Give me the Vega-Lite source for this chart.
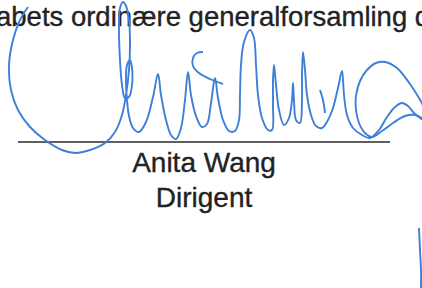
{
  "$schema": "https://vega.github.io/schema/vega-lite/v6.json",
  "width": 422,
  "height": 288,
  "autosize": {"type": "fit", "contains": "padding"},
  "padding": 0,
  "background": "white",
  "config": {"view": {"stroke": null}},
  "datasets": {
    "sig": [
      {"s":"a","i":1,"x":28,"y":7},{"s":"a","i":2,"x":20,"y":20},{"s":"a","i":3,"x":13,"y":40},{"s":"a","i":4,"x":9,"y":65},{"s":"a","i":5,"x":11,"y":90},{"s":"a","i":6,"x":18,"y":110},{"s":"a","i":7,"x":30,"y":127},{"s":"a","i":8,"x":45,"y":140},{"s":"a","i":9,"x":62,"y":150},{"s":"a","i":10,"x":75,"y":153},{"s":"a","i":11,"x":90,"y":150},{"s":"a","i":12,"x":105,"y":143},{"s":"a","i":13,"x":115,"y":132},{"s":"a","i":14,"x":122,"y":115},{"s":"a","i":15,"x":126,"y":95},{"s":"a","i":16,"x":129,"y":70},{"s":"a","i":17,"x":130,"y":45},{"s":"a","i":18,"x":129,"y":20},{"s":"a","i":19,"x":126,"y":6},{"s":"a","i":20,"x":123,"y":2},{"s":"a","i":21,"x":120,"y":8},{"s":"a","i":22,"x":119,"y":30},{"s":"a","i":23,"x":120,"y":60},{"s":"a","i":24,"x":122,"y":85},{"s":"a","i":25,"x":125,"y":98},{"s":"a","i":26,"x":129,"y":97},{"s":"a","i":27,"x":132,"y":85},{"s":"a","i":28,"x":132,"y":68},{"s":"a","i":29,"x":130,"y":60},{"s":"a","i":30,"x":127,"y":65},{"s":"a","i":31,"x":126,"y":80},{"s":"a","i":32,"x":127,"y":100},{"s":"a","i":33,"x":129,"y":116},{"s":"a","i":34,"x":133,"y":128},{"s":"a","i":35,"x":139,"y":132},{"s":"a","i":36,"x":146,"y":122},{"s":"a","i":37,"x":153,"y":97},{"s":"a","i":38,"x":158,"y":74},{"s":"a","i":39,"x":161,"y":95},{"s":"a","i":40,"x":166,"y":120},{"s":"a","i":41,"x":171,"y":135},{"s":"a","i":42,"x":176,"y":139},{"s":"a","i":43,"x":181,"y":128},{"s":"a","i":44,"x":185,"y":100},{"s":"a","i":45,"x":188,"y":72},{"s":"a","i":46,"x":191,"y":95},{"s":"a","i":47,"x":196,"y":116},{"s":"a","i":48,"x":202,"y":127},{"s":"a","i":49,"x":207,"y":124},{"s":"a","i":50,"x":211,"y":103},{"s":"a","i":51,"x":215,"y":78},{"s":"a","i":52,"x":218,"y":98},{"s":"a","i":53,"x":223,"y":120},{"s":"a","i":54,"x":229,"y":131},{"s":"a","i":55,"x":235,"y":131},{"s":"a","i":56,"x":239,"y":120},{"s":"a","i":57,"x":240,"y":95},{"s":"a","i":58,"x":241,"y":65},{"s":"a","i":59,"x":244,"y":42},{"s":"a","i":60,"x":250,"y":30},{"s":"a","i":61,"x":254,"y":38},{"s":"a","i":62,"x":256,"y":65},{"s":"a","i":63,"x":258,"y":95},{"s":"a","i":64,"x":262,"y":118},{"s":"a","i":65,"x":268,"y":130},{"s":"a","i":66,"x":272,"y":130},{"s":"a","i":67,"x":273,"y":105},{"s":"a","i":68,"x":273,"y":80},{"s":"a","i":69,"x":274,"y":65},{"s":"a","i":70,"x":276,"y":85},{"s":"a","i":71,"x":279,"y":110},{"s":"a","i":72,"x":284,"y":125},{"s":"a","i":73,"x":289,"y":118},{"s":"a","i":74,"x":292,"y":100},{"s":"a","i":75,"x":293,"y":83},{"s":"a","i":76,"x":294,"y":100},{"s":"a","i":77,"x":296,"y":120},{"s":"a","i":78,"x":300,"y":123},{"s":"a","i":79,"x":302,"y":100},{"s":"a","i":80,"x":302,"y":75},{"s":"a","i":81,"x":303,"y":52},{"s":"a","i":82,"x":305,"y":70},{"s":"a","i":83,"x":307,"y":95},{"s":"a","i":84,"x":311,"y":115},{"s":"a","i":85,"x":316,"y":126},{"s":"a","i":86,"x":322,"y":128},{"s":"a","i":87,"x":328,"y":120},{"s":"a","i":88,"x":333,"y":108},{"s":"a","i":89,"x":338,"y":88},{"s":"a","i":90,"x":342,"y":71},{"s":"a","i":91,"x":344,"y":95},{"s":"a","i":92,"x":347,"y":115},{"s":"a","i":93,"x":353,"y":128},{"s":"a","i":94,"x":362,"y":135},{"s":"a","i":95,"x":370,"y":138},{"s":"a","i":96,"x":379,"y":130},{"s":"a","i":97,"x":387,"y":117},{"s":"a","i":98,"x":395,"y":107},{"s":"a","i":99,"x":402,"y":103},{"s":"a","i":100,"x":408,"y":106},{"s":"a","i":101,"x":414,"y":113},{"s":"a","i":102,"x":426,"y":122},
      {"s":"b","i":1,"x":428,"y":115},{"s":"b","i":2,"x":419,"y":98},{"s":"b","i":3,"x":410,"y":84},{"s":"b","i":4,"x":397,"y":68},{"s":"b","i":5,"x":385,"y":62},{"s":"b","i":6,"x":376,"y":63},{"s":"b","i":7,"x":367,"y":70},{"s":"b","i":8,"x":360,"y":81},{"s":"b","i":9,"x":356,"y":96},{"s":"b","i":10,"x":356,"y":110},{"s":"b","i":11,"x":359,"y":123},{"s":"b","i":12,"x":365,"y":133},{"s":"b","i":13,"x":372,"y":137},{"s":"b","i":14,"x":382,"y":131},{"s":"b","i":15,"x":393,"y":123},{"s":"b","i":16,"x":405,"y":116},{"s":"b","i":17,"x":415,"y":115},{"s":"b","i":18,"x":428,"y":122},
      {"s":"c","i":1,"x":203,"y":52},{"s":"c","i":2,"x":197,"y":53},{"s":"c","i":3,"x":193,"y":58},{"s":"c","i":4,"x":193,"y":66},{"s":"c","i":5,"x":199,"y":73},{"s":"c","i":6,"x":210,"y":79},{"s":"c","i":7,"x":223,"y":84},
      {"s":"d","i":1,"x":320,"y":90},{"s":"d","i":2,"x":323,"y":100},{"s":"d","i":3,"x":325,"y":113},
      {"s":"e","i":1,"x":419,"y":228},{"s":"e","i":2,"x":420,"y":250},{"s":"e","i":3,"x":421,"y":270},{"s":"e","i":4,"x":421,"y":290}
    ],
    "rule": [{"x":18,"x2":390,"y":142}],
    "top": [{"t":"abets ordinære generalforsamling d","x":-4,"y":26}],
    "names": [{"t":"Anita Wang","x":204,"y":172},{"t":"Dirigent","x":204,"y":207}]
  },
  "encoding": {
    "x": {"field": "x", "type": "quantitative", "scale": {"domain": [0, 422], "nice": false, "zero": false}, "axis": null},
    "y": {"field": "y", "type": "quantitative", "scale": {"domain": [0, 288], "nice": false, "zero": false, "reverse": true}, "axis": null}
  },
  "layer": [
    {
      "data": {"name": "top"},
      "mark": {"type": "text", "align": "left", "baseline": "alphabetic", "font": "Liberation Sans", "fontSize": 27.5, "color": "#222222", "stroke": "#222222", "strokeWidth": 0.35, "clip": true},
      "encoding": {"text": {"field": "t"}}
    },
    {
      "data": {"name": "names"},
      "mark": {"type": "text", "align": "center", "baseline": "alphabetic", "font": "Liberation Sans", "fontSize": 28, "color": "#222222", "stroke": "#222222", "strokeWidth": 0.35, "clip": true},
      "encoding": {"text": {"field": "t"}}
    },
    {
      "data": {"name": "rule"},
      "mark": {"type": "rule", "color": "#2a2a2a", "strokeWidth": 1.5, "clip": true},
      "encoding": {"x2": {"field": "x2"}}
    },
    {
      "data": {"name": "sig"},
      "mark": {"type": "line", "interpolate": "catmull-rom", "color": "#3d7fd9", "strokeWidth": 1.9, "clip": true},
      "encoding": {
        "detail": {"field": "s"},
        "order": {"field": "i", "type": "quantitative"}
      }
    }
  ]
}
